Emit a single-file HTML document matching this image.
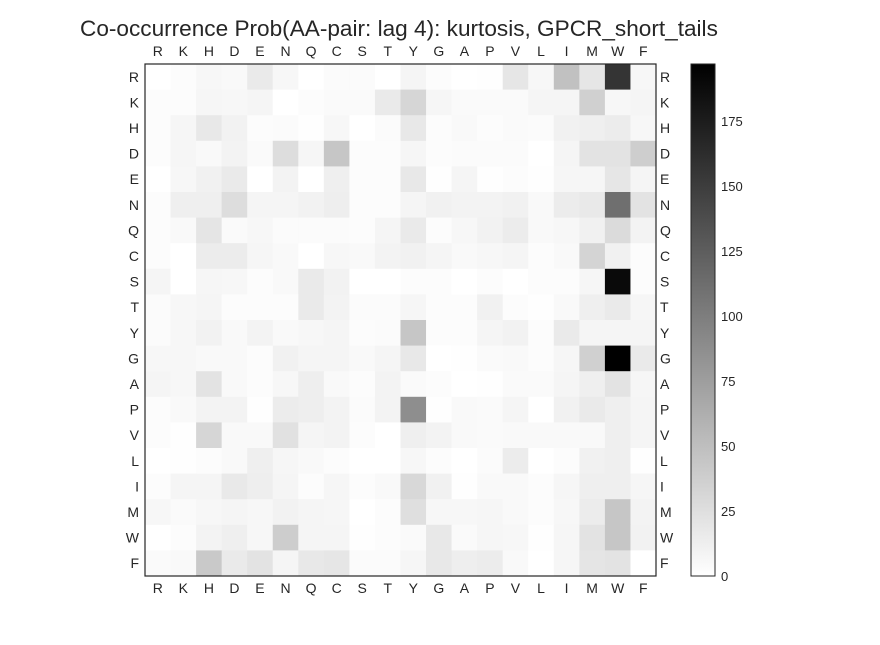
<!DOCTYPE html>
<html><head><meta charset="utf-8"><style>
body{margin:0;background:#fff;font-family:"Liberation Sans",sans-serif;}
svg text{font-family:"Liberation Sans",sans-serif;fill:#262626;}
</style></head><body>
<svg id="chart" width="880" height="640" xmlns="http://www.w3.org/2000/svg">
<rect width="880" height="640" fill="#fff"/>
<text x="80" y="36" font-size="22.6">Co-occurrence Prob(AA-pair: lag 4): kurtosis, GPCR_short_tails</text>
<g id="cells"></g>
<g id="labels"></g>
<rect x="145" y="64" width="511" height="512" fill="none" stroke="#262626" stroke-width="1.2"/>
<defs><linearGradient id="cg" x1="0" y1="1" x2="0" y2="0"><stop offset="0" stop-color="#fff"/><stop offset="1" stop-color="#000"/></linearGradient></defs>
<rect id="cbar" x="691" y="64" width="24" height="512" fill="url(#cg)" stroke="#262626" stroke-width="1"/>
<g id="cbticks"></g>
</svg>
<script>
const aminoAcids = ["R","K","H","D","E","N","Q","C","S","T","Y","G","A","P","V","L","I","M","W","F"];
const rowR = [0,2,6,5,16,6,0,3,3,0,8,2,0,1,19,6,48,19,157,6];
const rowK = [2,2,7,6,8,0,2,4,4,16,32,7,4,4,4,8,8,36,6,8];
const rowH = [2,7,18,10,2,3,1,6,0,3,18,2,5,2,4,3,11,12,15,6];
const rowD = [2,7,5,9,4,26,7,44,2,2,7,2,3,3,3,0,8,22,22,38];
const rowE = [0,6,11,16,0,9,0,12,2,2,18,1,8,1,2,1,7,7,19,8];
const rowN = [2,12,12,26,8,8,10,13,2,2,8,11,9,9,11,5,15,17,111,22];
const rowQ = [2,5,20,4,6,3,3,3,2,8,16,2,6,10,15,5,6,11,28,9];
const rowC = [2,0,15,15,7,5,0,6,5,9,11,8,5,6,8,2,5,33,11,2];
const rowS = [8,0,7,6,2,5,16,10,0,0,2,2,0,2,0,2,2,7,189,2];
const rowT = [3,6,8,2,2,2,16,9,3,3,7,2,2,11,2,1,5,12,16,7];
const rowY = [3,6,10,5,9,5,6,8,2,3,44,2,2,8,10,2,16,8,8,8];
const rowG = [6,6,5,5,2,11,8,8,5,8,18,0,1,4,5,2,7,36,197,16];
const rowA = [8,6,22,5,2,6,13,5,2,9,4,2,0,1,4,4,8,12,22,7];
const rowP = [2,5,9,9,1,15,13,9,3,9,87,1,5,4,8,0,11,16,12,8];
const rowV = [2,1,32,5,5,23,8,9,2,0,12,9,5,4,5,5,5,5,12,8];
const rowL = [0,1,2,5,12,7,5,2,0,0,6,2,0,3,15,0,2,11,12,1];
const rowI = [2,8,8,17,13,8,2,7,2,5,30,11,1,5,5,2,7,12,12,7];
const rowM = [6,4,6,8,6,10,8,7,0,2,25,6,6,7,5,2,6,15,44,9];
const rowW = [0,2,9,12,6,39,8,8,1,2,4,18,4,7,6,1,7,22,44,10];
const rowF = [4,5,42,16,22,8,18,19,3,3,7,18,13,15,5,0,7,20,22,0];
const matrix = [rowR,rowK,rowH,rowD,rowE,rowN,rowQ,rowC,rowS,rowT,rowY,rowG,rowA,rowP,rowV,rowL,rowI,rowM,rowW,rowF];
const cbTicks = [0,25,50,75,100,125,150,175];
const vmax = 197;

const NS = "http://www.w3.org/2000/svg";
const X0=145, Y0=64, W=511, H=512, n=aminoAcids.length;
const cw=W/n, ch=H/n;
const xPos = i => X0 + i*cw;
const yPos = j => Y0 + j*ch;
const color = v => { const g = Math.round(255 - Math.min(v,vmax)/vmax*255); return `rgb(${g},${g},${g})`; };
const cells = document.getElementById('cells');
matrix.forEach((row,j)=>row.forEach((v,i)=>{
  const r=document.createElementNS(NS,'rect');
  r.setAttribute('x',xPos(i)); r.setAttribute('y',yPos(j));
  r.setAttribute('width',cw+0.5); r.setAttribute('height',ch+0.5);
  r.setAttribute('fill',color(v));
  
  
  cells.appendChild(r);
}));
const labels=document.getElementById('labels');
function txt(x,y,s,anchor){
  const t=document.createElementNS(NS,'text');
  t.setAttribute('x',x); t.setAttribute('y',y); t.setAttribute('font-size','14');
  t.setAttribute('text-anchor',anchor); t.textContent=s;
  labels.appendChild(t); return t;
}
aminoAcids.forEach((a,i)=>{
  const cx=xPos(i)+cw/2, cy=yPos(i)+ch/2+5;
  let t=txt(cx,56,a,'middle');
  
  
  t=txt(cx,593,a,'middle');
  
  
  t=txt(139,cy,a,'end');
  
  
  t=txt(660,cy,a,'start');
  
  
});
const cbt=document.getElementById('cbticks');
cbTicks.forEach(v=>{
  const y=576 - v/vmax*512 + 1;
  const t=document.createElementNS(NS,'text');
  t.setAttribute('x',721); t.setAttribute('y',y+4);
  t.setAttribute('font-size','13'); t.textContent=v;
  
  
  cbt.appendChild(t);
});
</script>
</body></html>
